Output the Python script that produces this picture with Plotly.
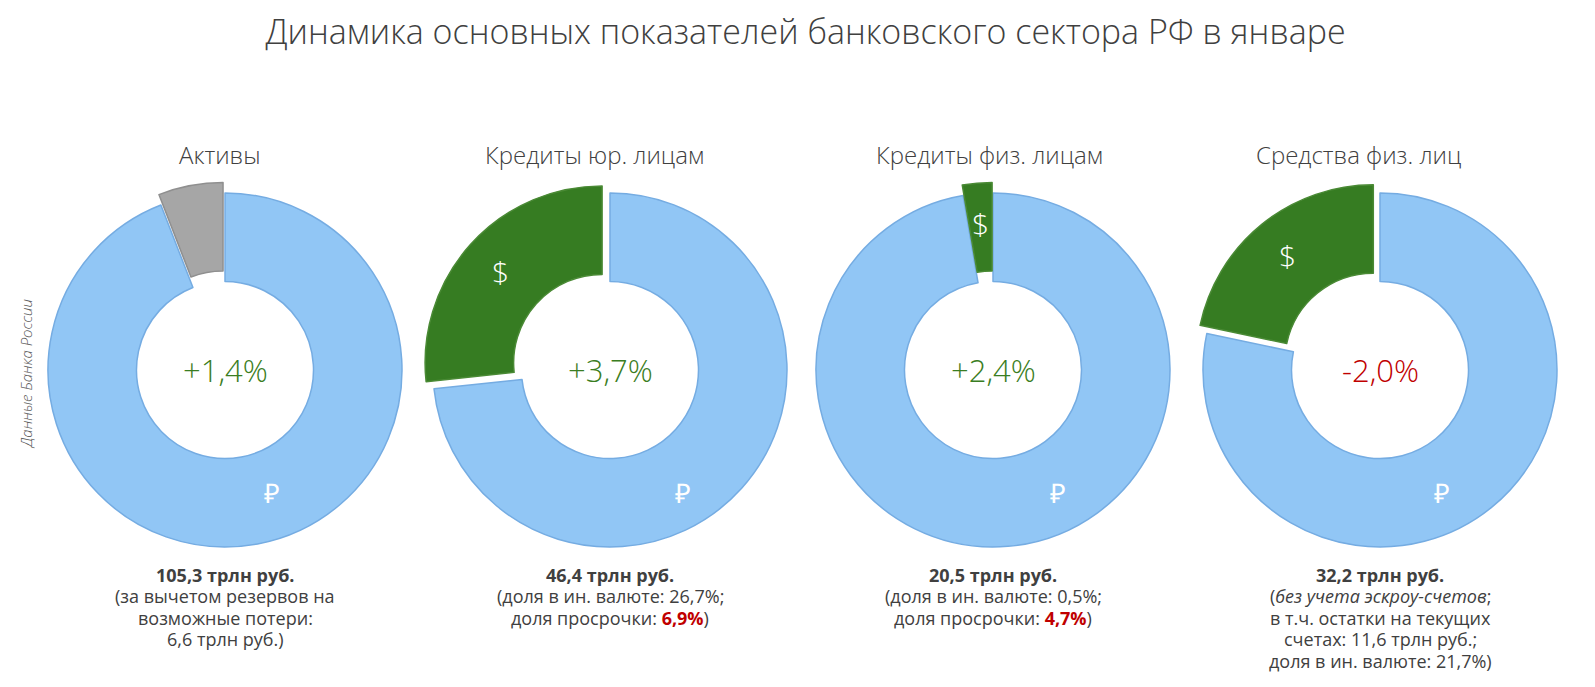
import math
import plotly.graph_objects as go

# ---- data ----
categories = ["Активы", "Кредиты юр. лицам", "Кредиты физ. лицам", "Средства физ. лиц"]
rub_share = [94.1, 73.3, 97.3, 78.3]          # blue slice
other_share = [5.9, 26.7, 2.7, 21.7]          # grey / green slice
other_kind = ["reserve", "fx", "fx", "fx"]
changes = ["+1,4%", "+3,7%", "+2,4%", "-2,0%"]
totals = ["105,3 трлн руб.", "46,4 трлн руб.", "20,5 трлн руб.", "32,2 трлн руб."]
note_lines = [
    ["(за вычетом резервов на", "возможные потери:", "6,6 трлн руб.)"],
    ["(доля в ин. валюте: 26,7%;", "доля просрочки: <b><span style='color:#c00000'>6,9%</span></b>)"],
    ["(доля в ин. валюте: 0,5%;", "доля просрочки: <b><span style='color:#c00000'>4,7%</span></b>)"],
    ["(<i>без учета эскроу-счетов</i>;", "в т.ч. остатки на текущих",
     "счетах: 11,6 трлн руб.;", "доля в ин. валюте: 21,7%)"],
]
title = "Динамика основных показателей банковского сектора РФ в январе"
source = "Данные Банка России"

# ---- layout params (pixel targets in figure coordinates) ----
W, H = 1595, 687
FONT = "Open Sans"
BLUE, BLUE_LINE = "#91c6f5", "#75ace2"
GREEN, GREEN_LINE = "#367c22", "#4a8a35"
GREY, GREY_LINE = "#a6a6a6", "#8f8f8f"
TXT = "#404040"
PULL = 0.06
HOLE = 0.5
centers_px = [217, 602, 985, 1372]
cy_px = 362
radius_px = 177
half_px = radius_px * (1 + PULL)
ruble_offset_px = [(47, 122), (73, 122), (65, 122), (62, 122)]
subtitle_offset_px = [-6, -16, -4, -22]
note_top_px = 567
line_px = 21.4

fig = go.Figure()
annotations = []


def ann(xp, yp, text, size, color=TXT, weight=None, **kw):
    f = dict(family=FONT, size=size, color=color)
    if weight:
        f["weight"] = weight
    d = dict(x=xp / W, y=1 - yp / H, xref="paper", yref="paper", xanchor="center",
             yanchor="middle", text=text, showarrow=False, font=f)
    d.update(kw)
    annotations.append(d)


for i, cat in enumerate(categories):
    cxp = centers_px[i]
    cx = cxp / W
    cy = 1 - cy_px / H
    dx, dy = half_px / W, half_px / H
    other_col = GREY if other_kind[i] == "reserve" else GREEN
    other_line = GREY_LINE if other_kind[i] == "reserve" else GREEN_LINE
    fig.add_trace(go.Pie(
        values=[rub_share[i], other_share[i]],
        labels=["₽", "other"],
        sort=False, direction="clockwise", rotation=0,
        hole=HOLE, pull=[0, PULL],
        marker=dict(colors=[BLUE, other_col], line=dict(color=[BLUE_LINE, other_line], width=1.5)),
        textinfo="none", hoverinfo="label+value",
        domain=dict(x=[cx - dx, cx + dx], y=[cy - dy, cy + dy]),
        showlegend=False,
    ))
    r = radius_px
    rmid = r * (1 + HOLE) / 2
    ox, oy = ruble_offset_px[i]
    ann(cxp + ox, cy_px + oy, "₽", 27, color="white")
    if other_kind[i] == "fx":
        frac = other_share[i] / (rub_share[i] + other_share[i])
        am = -math.pi * frac
        rr = rmid + PULL * r + 4
        ann(cxp + rr * math.sin(am), cy_px - rr * math.cos(am), "$", 30, color="white", weight=300)
    ann(cxp, cy_px, changes[i], 31, weight=300,
        color="#c00000" if changes[i].startswith("-") else "#3a7d22")
    ann(cxp + subtitle_offset_px[i], 147, cat, 24, weight=300)
    ann(cxp, note_top_px, "<b>" + totals[i] + "</b>", 18)
    for j, line in enumerate(note_lines[i]):
        ann(cxp, note_top_px + (j + 1) * line_px, line, 18)

ann(18, 366, "<i>" + source + "</i>", 15, color="#595959", weight=300, textangle=-90)

fig.update_layout(
    width=W, height=H,
    margin=dict(l=0, r=0, t=0, b=0),
    paper_bgcolor="white", plot_bgcolor="white",
    title=dict(text=title, x=0.5, xanchor="center", y=1 - 24 / H, yanchor="middle",
               font=dict(family=FONT, size=34, weight=300, color=TXT)),
    annotations=annotations,
)
fig.write_html("out.html")
